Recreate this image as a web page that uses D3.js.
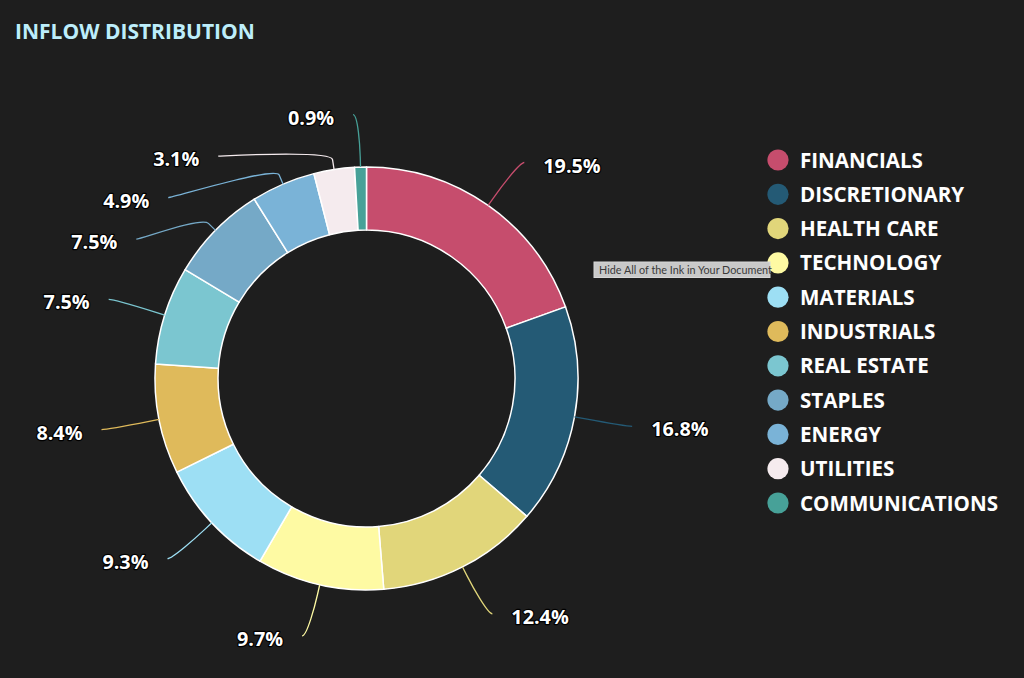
<!DOCTYPE html>
<html>
<head>
<meta charset="utf-8">
<script src="https://cdn.jsdelivr.net/npm/d3@7/dist/d3.min.js"></script>
<style>
  html, body { margin: 0; padding: 0; background: #1e1e1e; }
  svg { display: block; }
</style>
</head>
<body>
<svg id="chart" width="1024" height="678"></svg>
<script>
// ---- data ----
const title = "INFLOW DISTRIBUTION";
const sectors = ["FINANCIALS", "DISCRETIONARY", "HEALTH CARE", "TECHNOLOGY", "MATERIALS",
  "INDUSTRIALS", "REAL ESTATE", "STAPLES", "ENERGY", "UTILITIES", "COMMUNICATIONS"];
const shares = [19.5, 16.8, 12.4, 9.7, 9.3, 8.4, 7.5, 7.5, 4.9, 3.1, 0.9];
const sectorColors = ["#c64d6d", "#245a75", "#e1d67a", "#fefaa3", "#9ddff4",
  "#dfba5b", "#7bc6d0", "#75a9c7", "#7ab3d7", "#f5ebee", "#47a198"];
const tooltipText = "Hide All of the Ink in Your Document";

// ---- layout ----
const W = 1024, H = 678;
const cx = 366.5, cy = 378.5;
const outerR = 211.5, innerR = 148.5;
const labelR = 264;       // radius on which label anchors sit
const breakOff = 10;      // connector break distance beyond slice edge
const connPad = 6;        // gap connector end -> label circle
const textGap = 19;       // gap connector end -> text
const minSpacing = 41.5;  // min vertical spacing of labels on one side
const fontFam = "'Open Sans', 'Noto Sans', sans-serif";

const svg = d3.select("#chart");
svg.append("rect").attr("width", W).attr("height", H).attr("fill", "#1e1e1e");

svg.append("text")
  .attr("x", 15).attr("y", 38.5)
  .attr("font-family", fontFam).attr("font-weight", 700)
  .attr("font-size", 21).attr("fill", "#bdeefb")
  .text(title);

const color = d3.scaleOrdinal().domain(sectors).range(sectorColors);
const data = sectors.map((s, i) => ({ name: s, value: shares[i] }));

const pie = d3.pie().value(d => d.value).sort(null);
const arcs = pie(data);
const arc = d3.arc().innerRadius(innerR).outerRadius(outerR);

const g = svg.append("g").attr("transform", `translate(${cx},${cy})`);
g.selectAll("path.slice").data(arcs).join("path")
  .attr("class", "slice")
  .attr("d", arc)
  .attr("fill", d => color(d.data.name))
  .attr("stroke", "#ffffff").attr("stroke-width", 1.5)
  .attr("stroke-linejoin", "round");

// ---- label layout (Highcharts-like) ----
const fmt = v => v.toFixed(1) + "%";
const labels = arcs.map(a => {
  const ang = (a.startAngle + a.endAngle) / 2;
  const left = ang > Math.PI;
  return {
    a, ang, left,
    y: -labelR * Math.cos(ang),
    touch: [outerR * Math.sin(ang), -outerR * Math.cos(ang)],
    brk: [(outerR + breakOff) * Math.sin(ang), -(outerR + breakOff) * Math.cos(ang)]
  };
});
// collision avoidance per side: push labels down in order of natural y
[true, false].forEach(side => {
  const list = labels.filter(l => l.left === side).sort((p, q) => p.y - q.y);
  for (let i = 1; i < list.length; i++) {
    if (list[i].y < list[i - 1].y + minSpacing) list[i].y = list[i - 1].y + minSpacing;
  }
});
labels.forEach(l => {
  const s = Math.max(-1, Math.min(1, l.y / labelR));
  const xr = labelR * Math.cos(Math.asin(s)) + connPad;
  l.x = l.left ? -xr : xr;
});

const lg = g.append("g");
lg.selectAll("path.conn").data(labels).join("path")
  .attr("class", "conn")
  .attr("fill", "none")
  .attr("stroke", d => color(d.a.data.name))
  .attr("stroke-width", 1.3)
  .attr("d", d => {
    const p = d3.path();
    p.moveTo(d.x, d.y);
    p.bezierCurveTo(d.x + (d.left ? 5 : -5), d.y,
      2 * d.brk[0] - d.touch[0], 2 * d.brk[1] - d.touch[1],
      d.brk[0], d.brk[1]);
    p.lineTo(d.touch[0], d.touch[1]);
    return p.toString();
  });

lg.selectAll("text.lbl").data(labels).join("text")
  .attr("class", "lbl")
  .attr("x", d => d.x + (d.left ? -textGap : textGap))
  .attr("y", d => d.y + 10)
  .attr("text-anchor", d => d.left ? "end" : "start")
  .attr("font-family", fontFam).attr("font-weight", 700).attr("font-size", 19.8)
  .attr("fill", "#ffffff")
  .attr("stroke", "#000000").attr("stroke-width", 2.4).attr("stroke-linejoin", "round")
  .attr("paint-order", "stroke")
  .text(d => fmt(d.a.data.value));

// ---- legend ----
const legendY = d3.scalePoint().domain(sectors).range([160, 503]);
const leg = svg.append("g");
const items = leg.selectAll("g").data(sectors).join("g")
  .attr("transform", d => `translate(778,${legendY(d)})`);
items.append("circle").attr("r", 10.6).attr("fill", d => color(d));
items.append("text")
  .attr("x", 22).attr("y", 7.5)
  .attr("font-family", fontFam).attr("font-weight", 700).attr("font-size", 20.6)
  .attr("fill", "#ffffff")
  .text(d => d);

// ---- system tooltip artifact ----
const tip = svg.append("g").attr("transform", "translate(594,262)");
tip.append("rect").attr("width", 176).attr("height", 15.5)
  .attr("fill", "#c9c9c9").attr("stroke", "#d8d8d8").attr("stroke-width", 1);
tip.append("text").attr("x", 5).attr("y", 11.5)
  .attr("font-family", "'Lato', 'Noto Sans', sans-serif").attr("font-size", 10.8)
  .attr("fill", "#3a3a3a").text(tooltipText);
</script>
</body>
</html>
